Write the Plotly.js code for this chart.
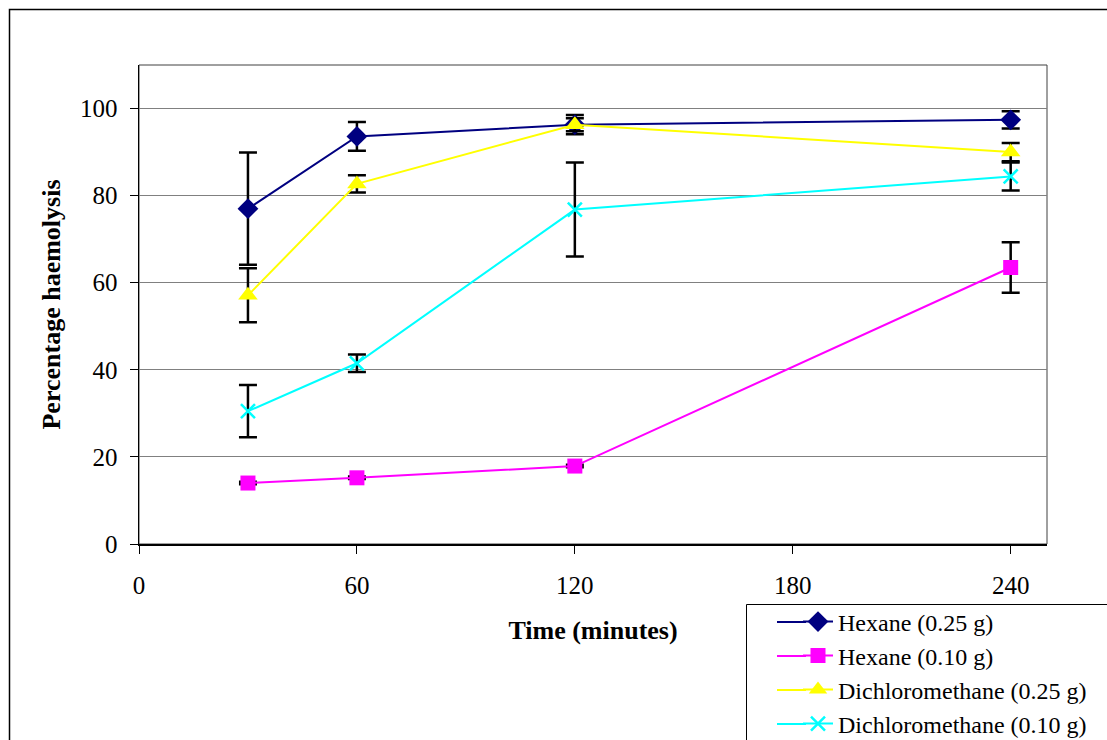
<!DOCTYPE html>
<html>
<head>
<meta charset="utf-8">
<script src="https://cdn.plot.ly/plotly-3.0.1.min.js"></script>
<style>
  html, body { margin: 0; padding: 0; background: #ffffff; }
  #chart { width: 1107px; height: 740px; }
</style>
</head>
<body>
<div id="chart"></div>
<script>
// ---- Data ----
const times = [30, 60, 120, 240];

const seriesNames = [
  "Hexane (0.25 g)",
  "Hexane (0.10 g)",
  "Dichloromethane (0.25 g)",
  "Dichloromethane (0.10 g)"
];

const hexane025 = [77.0, 93.6, 96.3, 97.4];
const hexane025Err = [12.9, 3.3, 2.2, 2.0];

const hexane010 = [14.0, 15.2, 17.9, 63.5];
const hexane010Err = [0.3, 0.3, 0.3, 5.8];

const dcm025 = [57.1, 82.7, 96.3, 90.0];
const dcm025Err = [6.2, 2.0, 1.5, 2.1];

const dcm010 = [30.5, 41.5, 76.8, 84.4];
const dcm010Err = [6.0, 2.0, 10.8, 3.2];

const xTicks = [0, 60, 120, 180, 240];
const yTicks = [0, 20, 40, 60, 80, 100];

// ---- Styling ----
const FONT = "Liberation Serif, Times New Roman, serif";
const colors = ["#000080", "#FF00FF", "#FFFF00", "#00FFFF"];
const symbols = ["diamond", "square", "triangle-up", "x-thin-open"];
const sizes = [16, 15, 17, 14];
const values = [hexane025, hexane010, dcm025, dcm010];
const errors = [hexane025Err, hexane010Err, dcm025Err, dcm010Err];
const legendIds = ["legend", "legend2", "legend3", "legend4"];

const traces = values.map((v, i) => ({
  type: "scatter",
  mode: "lines+markers",
  name: seriesNames[i],
  x: times,
  y: v,
  legend: legendIds[i],
  line: { color: colors[i], width: 2 },
  marker: {
    symbol: symbols[i],
    size: sizes[i],
    color: colors[i],
    line: symbols[i] === "x-thin-open" ? { color: colors[i], width: 2.5 } : { width: 0 }
  },
  error_y: {
    type: "data",
    array: errors[i],
    visible: true,
    color: "#000000",
    thickness: 2.5,
    width: 9
  }
}));

// plot area in pixels: left 139, right 1047, top 65, bottom 544
const L = 139, R = 1047, T = 65, B = 544;
const W = 1107, H = 740;
const px2x = p => (p - L) / (R - L);
const px2y = p => (B - p) / (B - T);

const legendRows = [622, 656, 690, 724];
const LEG_X = 798;

function legendAt(yPix) {
  return {
    x: px2x(LEG_X), xanchor: "left",
    y: px2y(yPix), yanchor: "middle",
    bgcolor: "rgba(0,0,0,0)",
    borderwidth: 0,
    font: { family: FONT, size: 24, color: "#000000" },
    itemwidth: 30
  };
}

// extend each legend sample line to the left, as in the reference
const legendLineExt = legendRows.map((yy, i) => ({
  type: "line", xref: "paper", yref: "paper",
  x0: px2x(777), x1: px2x(LEG_X + 8), y0: px2y(yy), y1: px2y(yy),
  line: { color: colors[i], width: 2 }
}));

const layout = {
  width: W,
  height: H,
  margin: { l: L, r: W - R, t: T, b: H - B, pad: 0, autoexpand: false },
  paper_bgcolor: "#ffffff",
  plot_bgcolor: "#ffffff",
  font: { family: FONT, size: 22, color: "#000000" },
  showlegend: true,
  xaxis: {
    range: [0, 250],
    automargin: false,
    tickvals: xTicks,
    ticktext: xTicks.map(String),
    ticks: "outside",
    ticklen: 8,
    tickwidth: 1,
    tickcolor: "#000000",
    ticklabelstandoff: 10,
    showgrid: false,
    zeroline: false,
    showline: true,
    linecolor: "#000000",
    linewidth: 1.5,
    tickfont: { family: FONT, size: 25, color: "#000000" },
    title: {
      text: "<b>Time (minutes)</b>",
      font: { family: FONT, size: 26, color: "#000000" },
      standoff: 23
    }
  },
  yaxis: {
    range: [0, 110],
    automargin: false,
    tickvals: yTicks,
    ticktext: yTicks.map(String),
    ticks: "outside",
    ticklen: 8,
    tickwidth: 1,
    tickcolor: "#000000",
    ticklabelstandoff: 7,
    showgrid: true,
    gridcolor: "#808080",
    gridwidth: 1,
    zeroline: false,
    showline: true,
    linecolor: "#000000",
    linewidth: 1.5,
    tickfont: { family: FONT, size: 25, color: "#000000" },
    title: {
      text: "<b>Percentage haemolysis</b>",
      font: { family: FONT, size: 26, color: "#000000" },
      standoff: 12
    }
  },
  legend: legendAt(legendRows[0]),
  legend2: legendAt(legendRows[1]),
  legend3: legendAt(legendRows[2]),
  legend4: legendAt(legendRows[3]),
  shapes: [
    // plot area border (top and right)
    { type: "rect", xref: "paper", yref: "paper", x0: 0, x1: 1, y0: 0, y1: 1,
      line: { color: "#404040", width: 1 }, layer: "below" },
    // outer chart frame
    { type: "rect", xref: "paper", yref: "paper",
      x0: px2x(9.5), x1: px2x(1110), y0: px2y(760), y1: px2y(9.5),
      line: { color: "#000000", width: 1.5 } },
    // legend box
    { type: "rect", xref: "paper", yref: "paper",
      x0: px2x(746.5), x1: px2x(1120), y0: px2y(760), y1: px2y(604.5),
      line: { color: "#000000", width: 1 } }
  ].concat(legendLineExt)
};

Plotly.newPlot("chart", traces, layout, { displayModeBar: false, staticPlot: true });
</script>
</body>
</html>
